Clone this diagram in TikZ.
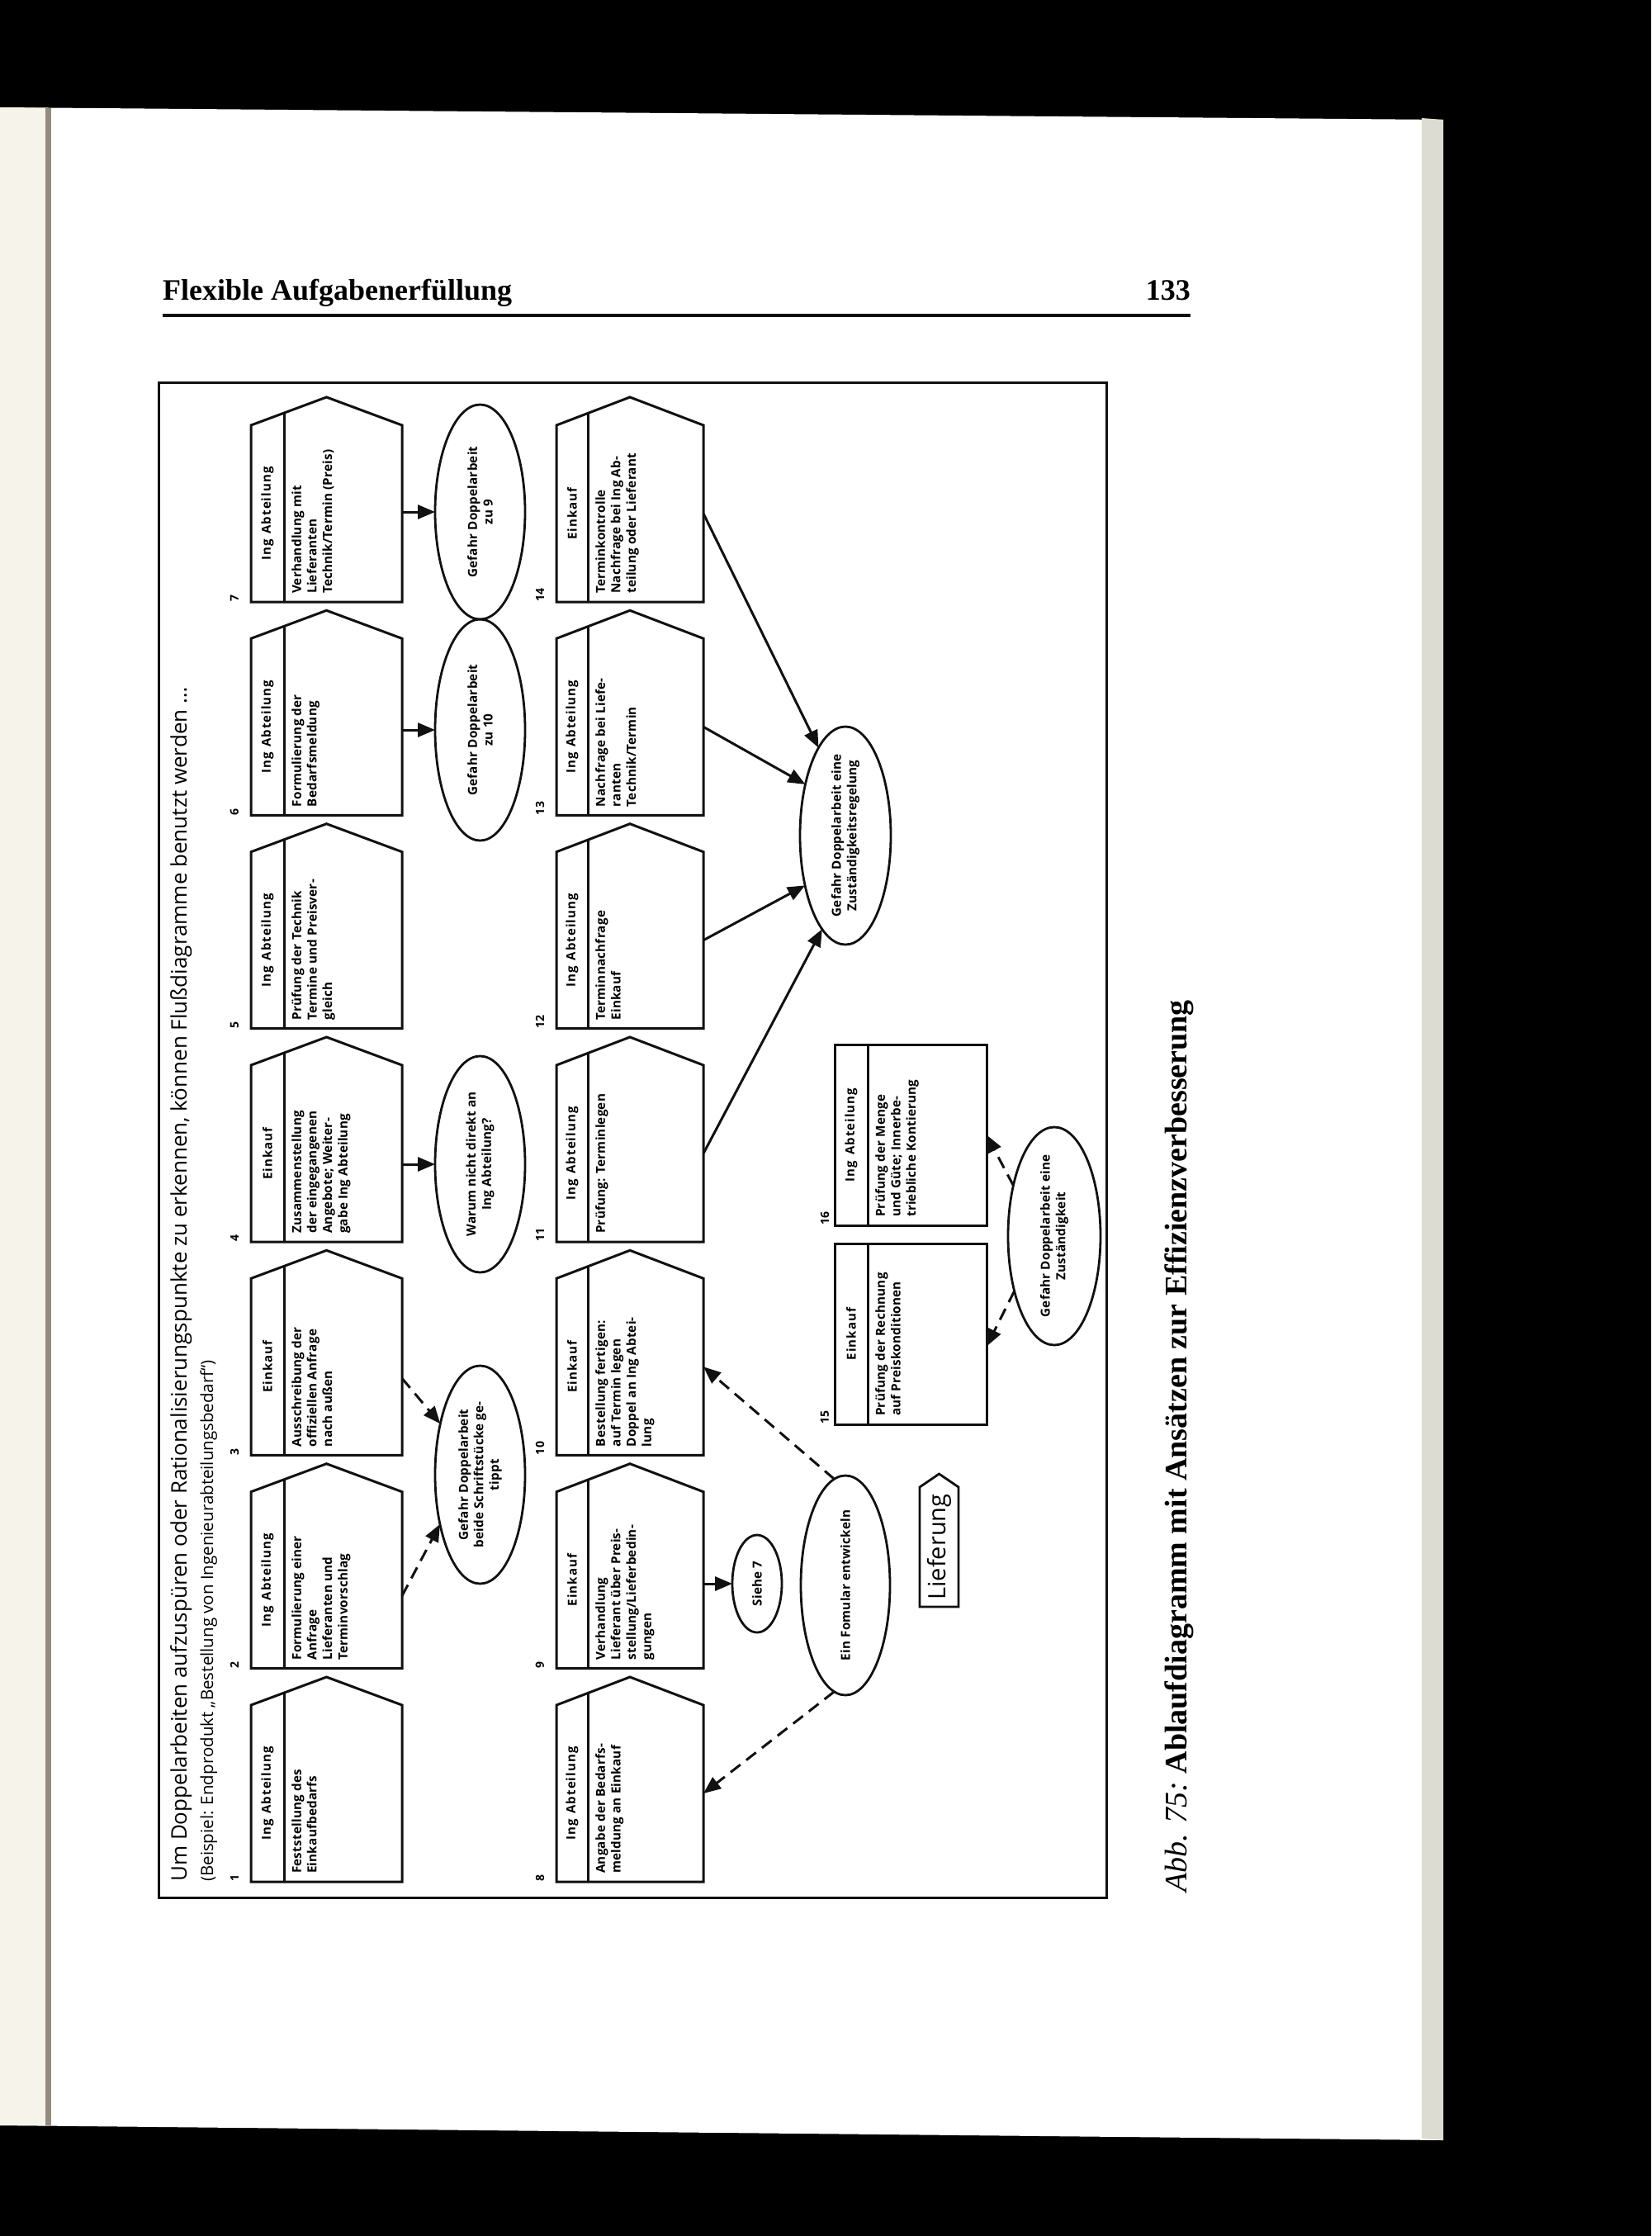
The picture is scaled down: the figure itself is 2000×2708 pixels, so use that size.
\documentclass[tikz,border=0pt]{standalone}
\usepackage{fontspec}
\setmainfont{Liberation Serif}
\newfontfamily\diagfont{Open Sans}
\newfontfamily\boxfont{Open Sans}[LetterSpace=1.5]
\newfontfamily\hdrfont{Open Sans}[LetterSpace=7]
\usetikzlibrary{shapes.geometric,arrows.meta,calc}
\definecolor{cream}{HTML}{F6F3EA}
\definecolor{gutter}{HTML}{948B7C}
\definecolor{edgegray}{HTML}{DCDCD2}
\definecolor{ink}{HTML}{111111}

% name, xleft, Ybottom, width, div, number, header, body
\newcommand{\mkhouse}[8]{%
  \node[hbase, minimum width=#4pt, minimum height=214pt, anchor=south west] (#1) at (#2,#3) {};
  \pgfmathsetmacro\divh{68*#5/#4}%
  \pgfmathsetmacro\hx{#5/2}%
  \pgfmathsetmacro\bx{#5+9}%
  \draw[boxline] (#1.south west) -- (#1.north west) -- ([yshift=34pt]#1.north) -- (#1.north east) -- (#1.south east) -- cycle;
  \draw[boxline] ([xshift=#5pt]#1.south west) -- ([xshift=#5pt,yshift=\divh pt]#1.north west);
  \node[hdrtext] (#1h) at ([xshift=\hx pt]#1.west) {#7};
  \node[bodytext] (#1b) at ([xshift=\bx pt,yshift=10pt]#1.south west) {#8};
  \node[numtext] (#1n) at ([xshift=-20pt]#1.south west) {#6};
}
% name, xleft, Ybottom, width, height, number, header, body
\newcommand{\mkrect}[8]{%
  \node[hbase, draw=ink, line width=3pt, minimum width=#4pt, minimum height=#5pt, anchor=south west] (#1) at (#2,#3) {};
  \draw[boxline] ([xshift=40pt]#1.south west) -- ([xshift=40pt]#1.north west);
  \node[hdrtext] (#1h) at ([xshift=20pt]#1.west) {#7};
  \node[bodytext] (#1b) at ([xshift=49pt,yshift=10pt]#1.south west) {#8};
  \node[numtext] (#1n) at ([xshift=-12pt]#1.south west) {#6};
}
\newcommand{\ingab}{Ing\hspace{0.45em}Abteilung}

\begin{document}
\begin{tikzpicture}[x=1pt,y=-1pt,
  hbase/.style={inner sep=0pt, outer sep=0pt},
  boxline/.style={line width=3pt, line join=miter, draw=ink},
  hdrtext/.style={rotate=90, inner sep=0pt, font=\hdrfont\bfseries\fontsize{15}{18}\selectfont},
  bodytext/.style={rotate=90, anchor=north west, inner sep=0pt, align=left, font=\boxfont\bfseries\fontsize{15.2}{18.7}\selectfont},
  numtext/.style={rotate=90, anchor=west, inner sep=0pt, font=\boxfont\bfseries\fontsize{14}{16}\selectfont},
  ellbox/.style={ellipse, draw=ink, line width=2.8pt, inner sep=0pt, outer sep=0pt},
  elltext/.style={rotate=90, inner sep=0pt, align=center, font=\boxfont\bfseries\fontsize{15.2}{18.7}\selectfont},
  solidarr/.style={line width=3pt, draw=ink, -{Triangle[length=21pt,width=17pt]}},
  dasharr/.style={solidarr, dash pattern=on 15pt off 9pt}
]
\useasboundingbox (0,0) rectangle (2000,2708);
% scan background
\fill[black] (0,0) rectangle (2000,2708);
\fill[white] (0,130) -- (1748,145) -- (1748,2592) -- (0,2574) -- cycle;
\fill[cream] (0,130) -- (58,131) -- (58,2574) -- (0,2574) -- cycle;
\fill[gutter] (55,131) rectangle (62,2574);
\fill[edgegray] (1722,143) -- (1748,145) -- (1748,2592) -- (1722,2590) -- cycle;

% page header
\node[anchor=base west, inner sep=0pt, font=\bfseries\fontsize{36}{40}\selectfont] (hd) at (197,363) {Flexible Aufgabenerfüllung};
\node[anchor=base east, inner sep=0pt, font=\bfseries\fontsize{36}{40}\selectfont] (pg) at (1442,363) {133};
\draw[line width=3.5pt, ink] (197,382) -- (1442,382);

% frame
\draw[line width=3pt, ink] (192,463) rectangle (1340,2298);

% title
\node[rotate=90, anchor=base west, inner sep=0pt, font=\diagfont\fontsize{26}{30}\selectfont] (t1) at (226,2279)
  {Um Doppelarbeiten aufzuspüren oder Rationalisierungspunkte zu erkennen, können Flußdiagramme benutzt werden \dots};
\node[rotate=90, anchor=base west, inner sep=0pt, font=\diagfont\fontsize{20.5}{24}\selectfont] (t2) at (258,2279)
  {(Beispiel: Endprodukt „Bestellung von Ingenieurabteilungsbedarf“)};

% row A
\mkhouse{b1}{304}{2279}{183}{40}{1}{\ingab}{Feststellung des\\Einkaufbedarfs}
\mkhouse{b2}{304}{2020.7}{183}{40}{2}{\ingab}{Formulierung einer\\Anfrage\\Lieferanten und\\Terminvorschlag}
\mkhouse{b3}{304}{1762.3}{183}{40}{3}{Einkauf}{Ausschreibung der\\offiziellen Anfrage\\nach außen}
\mkhouse{b4}{304}{1504}{183}{40}{4}{Einkauf}{Zusammenstellung\\der eingegangenen\\Angebote; Weiter-\\gabe Ing Abteilung}
\mkhouse{b5}{304}{1245.7}{183}{40}{5}{\ingab}{Prüfung der Technik\\Termine und Preisver-\\gleich}
\mkhouse{b6}{304}{987.3}{183}{40}{6}{\ingab}{Formulierung der\\Bedarfsmeldung}
\mkhouse{b7}{304}{729}{183}{40}{7}{\ingab}{Verhandlung mit\\Lieferanten\\Technik/Termin (Preis)}

% row B
\mkhouse{b8}{674}{2279}{178}{38}{8}{\ingab}{Angabe der Bedarfs-\\meldung an Einkauf}
\mkhouse{b9}{674}{2020.7}{178}{38}{9}{Einkauf}{Verhandlung\\Lieferant über Preis-\\stellung/Lieferbedin-\\gungen}
\mkhouse{b10}{674}{1762.3}{178}{38}{10}{Einkauf}{Bestellung fertigen:\\auf Termin legen\\Doppel an Ing Abtei-\\lung}
\mkhouse{b11}{674}{1504}{178}{38}{11}{\ingab}{Prüfung: Terminlegen}
\mkhouse{b12}{674}{1245.7}{178}{38}{12}{\ingab}{Terminnachfrage\\Einkauf}
\mkhouse{b13}{674}{987.3}{178}{38}{13}{\ingab}{Nachfrage bei Liefe-\\ranten\\Technik/Termin}
\mkhouse{b14}{674}{729}{178}{38}{14}{Einkauf}{Terminkontrolle\\Nachfrage bei Ing Ab-\\teilung oder Lieferant}

% boxes 15, 16
\mkrect{b15}{1011}{1725}{184}{219}{15}{Einkauf}{Prüfung der Rechnung\\auf Preiskonditionen}
\mkrect{b16}{1011}{1484}{184}{219}{16}{\ingab}{Prüfung der Menge\\und Güte; Innerbe-\\triebliche Kontierung}

% ellipses
\node[ellbox, minimum width=109pt, minimum height=264pt] (e1) at (581.5,1786) {};
\node[elltext] (e1t) at (e1) {Gefahr Doppelarbeit\\beide Schriftstücke ge-\\tippt};
\node[ellbox, minimum width=109pt, minimum height=262pt] (e2) at (581.5,1410) {};
\node[elltext] (e2t) at (e2) {Warum nicht direkt an\\Ing Abteilung?};
\node[ellbox, minimum width=109pt, minimum height=268pt] (e3) at (581.5,884) {};
\node[elltext] (e3t) at (e3) {Gefahr Doppelarbeit\\zu 10};
\node[ellbox, minimum width=109pt, minimum height=260pt] (e4) at (581.5,620) {};
\node[elltext] (e4t) at (e4) {Gefahr Doppelarbeit\\zu 9};
\node[ellbox, minimum width=60pt, minimum height=118pt] (e5) at (917,1918) {};
\node[elltext] (e5t) at (e5) {Siehe 7};
\node[ellbox, minimum width=108pt, minimum height=266pt] (e6) at (1024,1920) {};
\node[elltext] (e6t) at (e6) {Ein Fomular entwickeln};
\node[ellbox, minimum width=110pt, minimum height=264pt] (e7) at (1024,1012) {};
\node[elltext] (e7t) at (e7) {Gefahr Doppelarbeit eine\\Zuständigkeitsregelung};
\node[ellbox, minimum width=112pt, minimum height=264pt] (e8) at (1277,1497) {};
\node[elltext] (e8t) at (e8) {Gefahr Doppelarbeit eine\\Zuständigkeit};

% Lieferung
\node[hbase, minimum width=47pt, minimum height=145pt, anchor=south west] (lief) at (1114,1946) {};
\draw[boxline, line width=2.8pt] (lief.south west) -- (lief.north west) -- ([yshift=16pt]lief.north) -- (lief.north east) -- (lief.south east) -- cycle;
\node[rotate=90, inner sep=0pt, font=\diagfont\fontsize{29}{32}\selectfont] (lieft) at (lief.center) {Lieferung};

% connectors
\draw[solidarr] (b7.east |- e4) -- (e4.west);
\draw[solidarr] (b6.east |- e3) -- (e3.west);
\draw[solidarr] (b4.east |- e2) -- (e2.west);
\draw[solidarr] (b9.east |- e5) -- (e5.west);
\draw[dasharr] ([yshift=-14pt]b3.east) -- (e1.128);
\draw[dasharr] ([yshift=-19pt]b2.east) -- (e1.231);
\draw[dasharr] (e6.96) -- (b10.east);
\draw[dasharr] (e6.264) -- (b8.east);
\draw[solidarr] (b11.east) -- (e7.256);
\draw[solidarr] (b12.east) -- (e7.231);
\draw[solidarr] (b13.east) -- (e7.128);
\draw[solidarr] (b14.east) -- (e7.107);
\draw[dasharr] (e8.129) -- (b16.east);
\draw[dasharr] (e8.234) -- ([yshift=-15pt]b15.east);

% caption
\node[rotate=90, anchor=base west, inner sep=0pt, font=\fontsize{38}{42}\selectfont] (cap) at (1437,2292)
  {\textit{Abb. 75:}\ \textbf{Ablaufdiagramm mit Ansätzen zur Effizienzverbesserung}};
\end{tikzpicture}
\end{document}
